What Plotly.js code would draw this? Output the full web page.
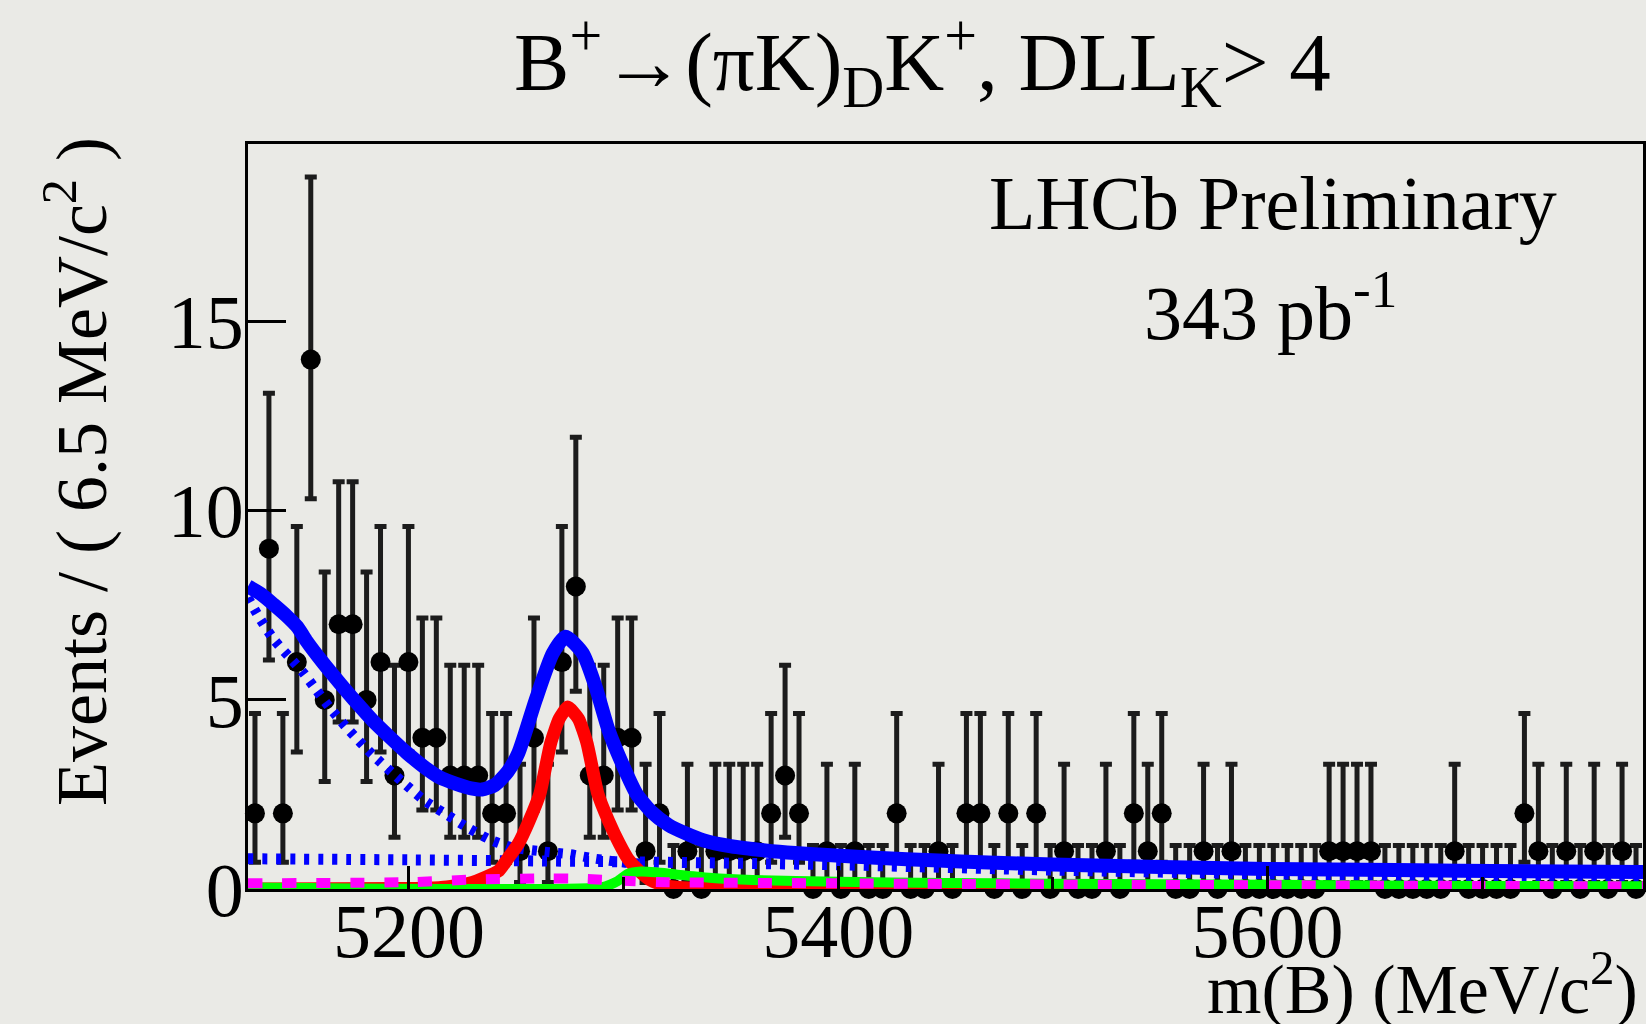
<!DOCTYPE html>
<html>
<head>
<meta charset="utf-8">
<script src="https://cdn.plot.ly/plotly-3.0.1.min.js"></script>
<style>
html, body { margin: 0; padding: 0; background: #eaeae6; }
#chart { width: 1646px; height: 1024px; }
</style>
</head>
<body>
<div id="chart"></div>
<script>
// ---- Histogram binning (100 bins of 6.5 MeV/c^2 from 5125 to 5775) ----
const binStart = 5125;
const binWidth = 6.5;

// Event counts per bin
const counts = [
  2, 9, 2, 6, 14, 5, 7, 7, 5, 6,
  3, 6, 4, 4, 3, 3, 3, 2, 2, 1,
  4, 1, 6, 8, 3, 3, 4, 4, 1, 2,
  0, 1, 0, 1, 1, 1, 1, 2, 3, 2,
  0, 1, 0, 1, 0, 0, 2, 0, 0, 1,
  0, 2, 2, 0, 2, 0, 2, 0, 1, 0,
  0, 1, 0, 2, 1, 2, 0, 0, 1, 0,
  1, 0, 0, 0, 0, 0, 0, 1, 1, 1,
  1, 0, 0, 0, 0, 0, 1, 0, 0, 0,
  0, 2, 1, 0, 1, 0, 1, 0, 1, 0
];

// Poisson (68%) error bar lengths indexed by count
const poissonErrLow  = [0.000, 0.827, 1.292, 1.633, 1.914, 2.160, 2.380, 2.581, 2.768, 2.943, 3.108, 3.265, 3.416, 3.561, 3.682];
const poissonErrHigh = [1.148, 2.300, 2.638, 2.918, 3.163, 3.382, 3.584, 3.770, 3.944, 4.110, 4.266, 4.417, 4.565, 4.690, 4.830];

// Total fit (solid blue)
const totalX = [5125, 5131, 5137, 5143, 5148, 5152, 5160, 5168, 5176, 5183, 5191, 5199, 5207, 5214, 5222, 5229, 5234, 5240, 5246, 5251, 5259, 5267, 5273, 5281, 5287, 5293, 5300, 5306, 5313, 5321, 5329, 5337, 5350, 5366, 5380, 5397, 5420, 5444, 5470, 5500, 5550, 5600, 5660, 5720, 5775];
const totalY = [8.00, 7.80, 7.52, 7.22, 6.93, 6.58, 5.98, 5.43, 4.90, 4.46, 4.02, 3.60, 3.23, 2.96, 2.78, 2.66, 2.63, 2.75, 3.10, 3.60, 4.99, 6.23, 6.67, 6.23, 5.34, 4.20, 3.23, 2.52, 2.04, 1.69, 1.47, 1.29, 1.13, 1.02, 0.95, 0.89, 0.82, 0.76, 0.70, 0.65, 0.58, 0.53, 0.50, 0.47, 0.45];

// Signal (solid red)
const signalX = [5125, 5200, 5215, 5228, 5236, 5242, 5246, 5251, 5256, 5261, 5266, 5270, 5274, 5279, 5283, 5288, 5293, 5298, 5302, 5307, 5313, 5320, 5335, 5775];
const signalY = [0.00, 0.01, 0.04, 0.15, 0.32, 0.49, 0.80, 1.20, 1.80, 2.52, 3.85, 4.50, 4.81, 4.50, 3.85, 2.52, 1.80, 1.20, 0.80, 0.49, 0.22, 0.08, 0.01, 0.00];

// Partially reconstructed background (thick dotted blue)
const partialX = [5125, 5130, 5137, 5144, 5151, 5157, 5163, 5172, 5183, 5196, 5207, 5218, 5228, 5238, 5248, 5261, 5275, 5287, 5300, 5310];
const partialY = [7.70, 7.20, 6.60, 6.15, 5.70, 5.25, 4.80, 4.20, 3.55, 2.88, 2.35, 1.95, 1.60, 1.30, 1.10, 1.00, 0.92, 0.80, 0.70, 0.67];

// Combinatorial background (dotted blue)
const combX = [5125, 5200, 5300, 5400, 5500, 5600, 5700, 5775];
const combY = [0.80, 0.77, 0.72, 0.64, 0.50, 0.40, 0.34, 0.30];

// Mis-identified background (solid green)
const misidX = [5125, 5290, 5297, 5302, 5308, 5315, 5325, 5340, 5360, 5400, 5450, 5500, 5600, 5700, 5775];
const misidY = [0.04, 0.05, 0.20, 0.40, 0.46, 0.44, 0.38, 0.30, 0.24, 0.19, 0.16, 0.14, 0.11, 0.08, 0.07];

// Other background (dashed magenta)
const otherX = [5125, 5200, 5230, 5260, 5280, 5300, 5320, 5400, 5500, 5600, 5700, 5775];
const otherY = [0.15, 0.18, 0.25, 0.28, 0.27, 0.22, 0.18, 0.15, 0.12, 0.10, 0.08, 0.07];

const yTicks = [0, 5, 10, 15];

// ---- build ----
const binCenters = counts.map((_, i) => binStart + binWidth * (i + 0.5));
const errHi = counts.map(n => poissonErrHigh[n]);
const errLo = counts.map(n => poissonErrLow[n]);

const FONT = 'Liberation Serif, Times New Roman, Times, serif';

const traces = [
  {
    x: binCenters, y: counts, type: 'scatter', mode: 'markers',
    marker: { color: '#000', size: 20 },
    error_y: { type: 'data', symmetric: false, array: errHi, arrayminus: errLo,
               color: '#1c1c1c', thickness: 5, width: 6 },
    cliponaxis: false, hoverinfo: 'x+y'
  },
  {
    x: combX, y: combY, type: 'scatter', mode: 'lines',
    line: { color: '#0000ff', width: 11, dash: '5px,9px', shape: 'spline', smoothing: 0.6 }
  },
  {
    x: partialX, y: partialY, type: 'scatter', mode: 'lines',
    line: { color: '#0000ff', width: 10, dash: '5px,8px', shape: 'spline', smoothing: 0.6 }
  },
  {
    x: signalX, y: signalY, type: 'scatter', mode: 'lines',
    line: { color: '#ff0000', width: 13, shape: 'spline', smoothing: 0.5 }
  },
  {
    x: misidX, y: misidY, type: 'scatter', mode: 'lines',
    line: { color: '#00ff00', width: 10, shape: 'spline', smoothing: 0.5 }
  },
  {
    x: otherX, y: otherY, type: 'scatter', mode: 'lines',
    line: { color: '#ff00ff', width: 10, dash: '14px,20px', shape: 'spline', smoothing: 0.5 }
  },
  {
    x: totalX, y: totalY, type: 'scatter', mode: 'lines',
    line: { color: '#0000ff', width: 14, shape: 'spline', smoothing: 0.6 }
  }
];

// paper coordinates helpers (plot area: x 248..1643, y 144..889 in pixels)
const PL = 248, PR = 1643, PT = 144, PB = 889;
const px = v => (v - PL) / (PR - PL);
const py = v => (PB - v) / (PB - PT);

const layout = {
  width: 1646, height: 1024,
  margin: { l: PL, r: 1646 - PR, t: PT, b: 1024 - PB, pad: 0 },
  paper_bgcolor: '#eaeae6', plot_bgcolor: '#eaeae6',
  showlegend: false,
  font: { family: FONT, color: '#000' },
  xaxis: {
    range: [binStart, binStart + binWidth * counts.length],
    tick0: 5200, dtick: 200,
    ticks: 'inside', ticklen: 23, tickwidth: 3, tickcolor: '#000',
    ticklabelstandoff: -26,
    showline: true, linewidth: 3, linecolor: '#000', mirror: true,
    showgrid: false, zeroline: false,
    tickfont: { family: FONT, size: 76, color: '#000' },
    minor: { tick0: 5100, dtick: 100, ticks: 'inside', ticklen: 12, tickwidth: 3, tickcolor: '#000', showgrid: false }
  },
  yaxis: {
    range: [0, 19.7],
    tickvals: yTicks, ticktext: yTicks.map(String),
    ticks: 'inside', ticklen: 38, tickwidth: 3, tickcolor: '#000',
    ticklabelstandoff: -14,
    showline: true, linewidth: 3, linecolor: '#000', mirror: true,
    showgrid: false, zeroline: false,
    tickfont: { family: FONT, size: 76, color: '#000' }
  },
  annotations: [
    {
      text: 'B<sup>+</sup>→(πK)<sub>D</sub>K<sup>+</sup>, DLL<sub>K</sub>> 4',
      xref: 'paper', yref: 'paper', x: px(922), y: py(62),
      xanchor: 'center', yanchor: 'middle', showarrow: false,
      font: { family: FONT, size: 83, color: '#000' }
    },
    {
      text: 'LHCb Preliminary',
      xref: 'paper', yref: 'paper', x: px(1273), y: py(203),
      xanchor: 'center', yanchor: 'middle', showarrow: false,
      font: { family: FONT, size: 76, color: '#000' }
    },
    {
      text: '343 pb<sup>-1</sup>',
      xref: 'paper', yref: 'paper', x: px(1270), y: py(307),
      xanchor: 'center', yanchor: 'middle', showarrow: false,
      font: { family: FONT, size: 76, color: '#000' }
    },
    {
      text: 'm(B) (MeV/c<sup>2</sup>)',
      xref: 'paper', yref: 'paper', x: px(1640), y: py(984),
      xanchor: 'right', yanchor: 'middle', showarrow: false,
      font: { family: FONT, size: 70, color: '#000' }
    },
    {
      text: 'Events / ( 6.5 MeV/c<sup>2</sup> )',
      xref: 'paper', yref: 'paper', x: px(76), y: py(472),
      xanchor: 'center', yanchor: 'middle', textangle: -90, showarrow: false,
      font: { family: FONT, size: 72, color: '#000' }
    }
  ]
};

Plotly.newPlot('chart', traces, layout, { displayModeBar: false, staticPlot: true });
</script>
</body>
</html>
